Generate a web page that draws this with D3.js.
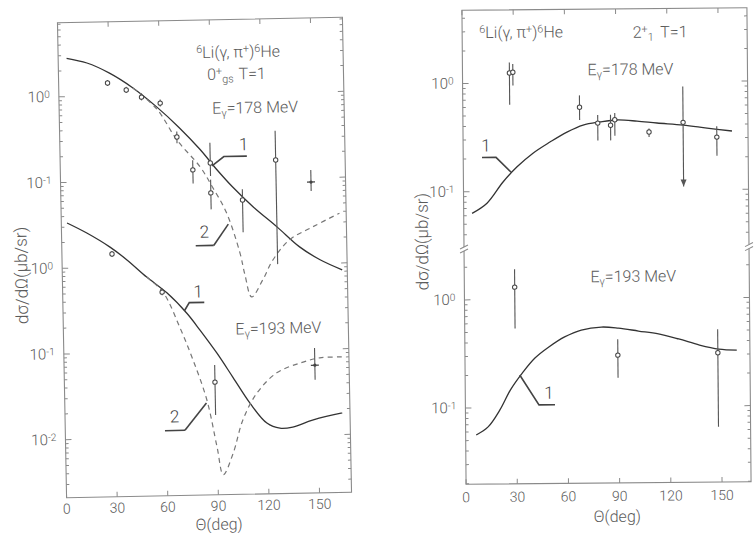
<!DOCTYPE html>
<html><head><meta charset="utf-8">
<script src="https://cdn.jsdelivr.net/npm/d3@7"></script>
<style>
html,body{margin:0;padding:0;background:#fff;}
svg{display:block;}
text{font-family:Roboto,"Liberation Sans",sans-serif;font-weight:300;fill:#5a5a5a;}
</style></head><body>
<svg id="chart" width="754" height="533"></svg>
<script>
// ---------------- data ----------------
const angleTicks = [0, 30, 60, 90, 120, 150];

// Left plate, 0+ g.s. T=1.  Theory curves: [theta (deg), dsigma/dOmega (mub/sr)]
const gs178Curve1 = [[5,2.8],[17,2.44],[30,1.85],[44,1.22],[58,0.72],[71,0.41],[83,0.227],[93,0.129],[102,0.081],[114,0.047],[128,0.027],[141,0.0157],[153,0.011],[166,0.0083]];
const gs178Curve2 = [[44,1.22],[58,0.68],[69.5,0.295],[83,0.141],[90,0.082],[98,0.041],[105.6,0.0137],[108.3,0.0076],[112,0.0042],[118.8,0.0066],[125,0.0112],[135,0.019],[149,0.0267],[165,0.038]];
// measured points: [theta, value, low, high]
const gs178Data = [[29,1.41,1.3,1.53],[40,1.16,1.07,1.26],[49,0.95,0.87,1.05],[60,0.80,0.73,0.88],[69.5,0.32,0.27,0.37],[78.6,0.131,0.091,0.17],[89,0.156,0.11,0.27],[89,0.07,0.045,0.1],[107.7,0.057,0.024,0.076],[127.8,0.164,0.01,0.36]];
const gs178Cross = [[148.5,0.089,0.07,0.123]];

const gs193Curve1 = [[3.4,3.36],[15,2.54],[28.6,1.72],[38.5,1.21],[50,0.756],[61.8,0.49],[73.4,0.28],[81,0.177],[90.7,0.095],[100,0.049],[109.8,0.0243],[119.6,0.0141],[127.3,0.0122],[134.9,0.0125],[146.7,0.0149],[164.4,0.0178]];
const gs193Curve2 = [[50,0.756],[59.5,0.50],[69,0.194],[76.6,0.079],[84.3,0.027],[89.8,0.0076],[93.2,0.0036],[99.3,0.0064],[105.4,0.0155],[114,0.0316],[126,0.054],[140,0.0695],[151.7,0.079],[165,0.080]];
const gs193Data = [[29.7,1.43,1.33,1.55],[59,0.5,0.46,0.55],[89.3,0.0435,0.018,0.069]];
const gs193Cross = [[148.7,0.065,0.044,0.103]];

// Right plate, 2+_1 T=1
const ex178Curve1 = [[4.9,0.063],[13.7,0.078],[23.2,0.122],[31.5,0.168],[40.9,0.224],[50.9,0.283],[60.9,0.349],[70.4,0.404],[80.3,0.43],[90.3,0.447],[102,0.435],[113.7,0.416],[129,0.396],[143,0.37],[157.6,0.346]];
const ex178Data = [[27.5,1.24,0.63,1.55],[29.5,1.26,0.95,1.5],[68.4,0.59,0.45,0.76],[79,0.42,0.29,0.50],[86.5,0.40,0.29,0.50],[89,0.45,0.32,0.52],[109,0.344,0.31,0.37],[148.7,0.305,0.205,0.385]];
const ex178Limit = [[129,0.42,0.107,0.90]];   // drawn with a downward arrow

const ex193Curve1 = [[6.2,0.0563],[13.2,0.0667],[20.2,0.0955],[26.5,0.146],[33.6,0.209],[41,0.286],[49.2,0.361],[58.5,0.446],[68.3,0.515],[80.1,0.547],[90,0.533],[101.8,0.499],[113.5,0.467],[125.3,0.418],[137.5,0.366],[148.7,0.335],[159.3,0.327]];
const ex193Data = [[29.5,1.30,0.54,1.9],[89.6,0.30,0.185,0.42],[148.2,0.31,0.064,0.51]];

// shared log axis: the upper (178 MeV) set sits two decades above the lower one
const upperShift = 100;
const leftDecades = [2, 1, 0, -1, -2];
const leftDecadeLabels = ['0', '-1', '0', '-1', '-2'];
const rightDecades = [2, 1, 0, -1];
const rightDecadeLabels = ['0', '-1', '0', '-1'];

// ---------------- drawing ----------------
const svg = d3.select('#chart');
const INK = '#333', GREY = '#777', FRAME = '#8a8a8a';

function richText(g, x, y, parts, size, anchor) {
  const t = g.append('text').attr('x', x).attr('y', y)
    .attr('font-size', size).attr('text-anchor', anchor || 'start');
  parts.forEach(p => {
    const [s, kind, dx] = p;
    const ts = t.append('tspan').text(s);
    if (kind === 'sup') ts.attr('baseline-shift', '45%').attr('font-size', size * 0.68);
    if (kind === 'sub') ts.attr('baseline-shift', '-30%').attr('font-size', size * 0.68);
    if (dx) ts.attr('dx', dx);
  });
  return t;
}

function makePanel(cfg) {
  const cx = (cfg.left + cfg.right) / 2, cy = (cfg.top + cfg.bottom) / 2;
  const g = svg.append('g').attr('transform', `rotate(${cfg.tilt},${cx},${cy})`);
  const x = d3.scaleLinear().domain(cfg.xDomain).range([cfg.left, cfg.right]);
  const y = d3.scaleLog().domain(cfg.yDomain).range([cfg.bottom, cfg.top]);

  g.append('rect').attr('x', cfg.left).attr('y', cfg.top)
    .attr('width', cfg.right - cfg.left).attr('height', cfg.bottom - cfg.top)
    .attr('fill', 'none').attr('stroke', FRAME).attr('stroke-width', 1.1);

  // inward ticks on all four sides
  const tk = g.append('g').attr('stroke', FRAME).attr('stroke-width', 1);
  angleTicks.forEach(a => {
    tk.append('line').attr('x1', x(a)).attr('x2', x(a)).attr('y1', cfg.bottom).attr('y2', cfg.bottom - 5);
    tk.append('line').attr('x1', x(a)).attr('x2', x(a)).attr('y1', cfg.top).attr('y2', cfg.top + 5);
  });
  const [lo, hi] = cfg.yDomain;
  for (let e = Math.floor(Math.log10(lo)); e <= Math.ceil(Math.log10(hi)); e++) {
    for (let m = 1; m <= 9; m++) {
      const v = m * Math.pow(10, e);
      if (v < lo || v > hi) continue;
      const len = m === 1 ? 6 : 3;
      tk.append('line').attr('x1', cfg.left).attr('x2', cfg.left + len).attr('y1', y(v)).attr('y2', y(v));
      tk.append('line').attr('x1', cfg.right).attr('x2', cfg.right - len).attr('y1', y(v)).attr('y2', y(v));
    }
  }

  // tick labels
  angleTicks.forEach(a => {
    g.append('text').attr('x', x(a)).attr('y', cfg.bottom + cfg.xLabelGap)
      .attr('text-anchor', 'middle').attr('font-size', 14).text(a);
  });
  cfg.decades.forEach((d, i) => {
    richText(g, cfg.left - 9, y(Math.pow(10, d)) + 5,
      [['10'], [cfg.decadeLabels[i], 'sup']], 15, 'end');
  });

  const line = d3.line().x(d => x(d[0])).y(d => y(d[1])).curve(d3.curveCatmullRom.alpha(0.5));
  return { g, x, y, line, cfg };
}

function drawCurve(P, data, shift, dashed) {
  P.g.append('path').datum(data.map(d => [d[0], d[1] * shift]))
    .attr('d', P.line).attr('fill', 'none')
    .attr('stroke', dashed ? GREY : INK)
    .attr('stroke-width', dashed ? 1.2 : 1.3)
    .attr('stroke-dasharray', dashed ? '5,4' : null);
}

// marker: 'circle' (open point), 'cross' (short horizontal bar), 'arrow' (bar ending in arrowhead)
function drawPoints(P, data, shift, marker) {
  const grp = P.g.append('g');
  data.forEach(d => {
    const [a, v, l, h] = d;
    const xa = P.x(a), yv = P.y(v * shift);
    grp.append('line').attr('x1', xa).attr('x2', xa)
      .attr('y1', P.y(l * shift)).attr('y2', P.y(h * shift))
      .attr('stroke', '#555').attr('stroke-width', 1.1);
    if (marker === 'arrow') {
      const yb = P.y(l * shift);
      grp.append('path').attr('d', `M${xa - 3},${yb - 7}L${xa},${yb}L${xa + 3},${yb - 7}Z`)
        .attr('fill', '#555');
    }
    if (marker === 'cross') {
      grp.append('line').attr('x1', xa - 4).attr('x2', xa + 4).attr('y1', yv).attr('y2', yv)
        .attr('stroke', '#444').attr('stroke-width', 1.3);
      grp.append('circle').attr('cx', xa).attr('cy', yv).attr('r', 1.6).attr('fill', '#444');
    } else {
      grp.append('circle').attr('cx', xa).attr('cy', yv).attr('r', 2.2)
        .attr('fill', '#fff').attr('stroke', '#444').attr('stroke-width', 1);
    }
  });
}

function leader(P, a, v, pts, num, numPos, underline) {
  const x0 = P.x(a), y0 = P.y(v);
  const d = 'M' + [[x0, y0]].concat(pts.map(p => [x0 + p[0], y0 + p[1]])).map(p => p.join(',')).join('L');
  P.g.append('path').attr('d', d).attr('fill', 'none').attr('stroke', '#444').attr('stroke-width', 1.6);
  P.g.append('text').attr('x', x0 + numPos[0]).attr('y', y0 + numPos[1])
    .attr('font-size', 17).attr('font-weight', 700).attr('text-anchor', 'middle')
    .style('fill', '#444').text(num);
  if (underline) {
    P.g.append('line').attr('x1', x0 + underline[0]).attr('x2', x0 + underline[1])
      .attr('y1', y0 + underline[2]).attr('y2', y0 + underline[2])
      .attr('stroke', '#444').attr('stroke-width', 1.6);
  }
}

function breakMark(P, v) {
  const yy = P.y(v);
  [P.cfg.left, P.cfg.right].forEach(xx => {
    P.g.append('rect').attr('x', xx - 4).attr('y', yy - 2).attr('width', 8).attr('height', 4).attr('fill', '#fff');
    [-2, 2].forEach(o => P.g.append('line')
      .attr('x1', xx - 4).attr('x2', xx + 4).attr('y1', yy + o + 2).attr('y2', yy + o - 2)
      .attr('stroke', FRAME).attr('stroke-width', 1));
  });
}

// ---- left plate ----
const L = makePanel({
  left: 62, right: 347, top: 20, bottom: 495, tilt: -1.1,
  xDomain: [0, 169], yDomain: [Math.pow(10, -2.676), Math.pow(10, 2.863)],
  decades: leftDecades, decadeLabels: leftDecadeLabels, xLabelGap: 16
});
drawCurve(L, gs178Curve1, upperShift, false);
drawCurve(L, gs178Curve2, upperShift, true);
drawPoints(L, gs178Data, upperShift, 'circle');
drawPoints(L, gs178Cross, upperShift, 'cross');
drawCurve(L, gs193Curve1, 1, false);
drawCurve(L, gs193Curve2, 1, true);
drawPoints(L, gs193Data, 1, 'circle');
drawPoints(L, gs193Cross, 1, 'cross');

richText(L.g, 242, 58, [['6', 'sup'], ['Li(γ, π'], ['+', 'sup'], [')'], ['6', 'sup'], ['He']], 16, 'middle');
richText(L.g, 240, 80, [['0'], ['+', 'sup'], ['gs', 'sub'], ['T=1', null, '0.3em']], 16, 'middle');
richText(L.g, 258, 114, [['E'], ['γ', 'sub'], ['=178 MeV']], 16, 'middle');
richText(L.g, 277, 335, [['E'], ['γ', 'sub'], ['=193 MeV']], 16, 'middle');

leader(L, 90, 0.145 * upperShift, [[12, -9], [35, -9]], '1', [32, -15], null);
leader(L, 99, 0.03 * upperShift, [[-15, 21]], '2', [-24, 13], [-33, -15, 21]);
leader(L, 72, 0.3, [[5, -8], [20, -8]], '1', [14, -13], null);
leader(L, 84, 0.025, [[-22, 27]], '2', [-32, 19], [-42, -22, 27]);

L.g.append('text').attr('transform', 'translate(27,272) rotate(-90)')
  .attr('text-anchor', 'middle').attr('font-size', 17).text('dσ/dΩ(μb/sr)');
L.g.append('text').attr('x', 214).attr('y', 530).attr('text-anchor', 'middle')
  .attr('font-size', 16).text('Θ(deg)');

// ---- right plate ----
const R = makePanel({
  left: 464, right: 749, top: 9, bottom: 483, tilt: -0.5,
  xDomain: [0, 167], yDomain: [Math.pow(10, -1.704), Math.pow(10, 2.677)],
  decades: rightDecades, decadeLabels: rightDecadeLabels, xLabelGap: 18
});
breakMark(R, Math.pow(10, 0.47));
drawCurve(R, ex178Curve1, upperShift, false);
drawPoints(R, ex178Data, upperShift, 'circle');
drawPoints(R, ex178Limit, upperShift, 'arrow');
drawCurve(R, ex193Curve1, 1, false);
drawPoints(R, ex193Data, 1, 'circle');

richText(R.g, 523, 37, [['6', 'sup'], ['Li(γ, π'], ['+', 'sup'], [')'], ['6', 'sup'], ['He']], 16, 'middle');
richText(R.g, 662, 38, [['2'], ['+', 'sup'], ['1', 'sub'], ['T=1', null, '0.4em']], 16, 'middle');
richText(R.g, 632, 75, [['E'], ['γ', 'sub'], ['=178 MeV']], 16, 'middle');
richText(R.g, 633, 282, [['E'], ['γ', 'sub'], ['=193 MeV']], 16, 'middle');

leader(R, 28, 0.15 * upperShift, [[-15, -15], [-29, -15]], '1', [-25, -21], null);
leader(R, 32, 0.2, [[19, 30], [35, 30]], '1', [29, 24], null);

R.g.append('text').attr('transform', 'translate(428,240) rotate(-90)')
  .attr('text-anchor', 'middle').attr('font-size', 17).text('dσ/dΩ(μb/sr)');
R.g.append('text').attr('x', 615).attr('y', 522).attr('text-anchor', 'middle')
  .attr('font-size', 16).text('Θ(deg)');
</script>
</body></html>
